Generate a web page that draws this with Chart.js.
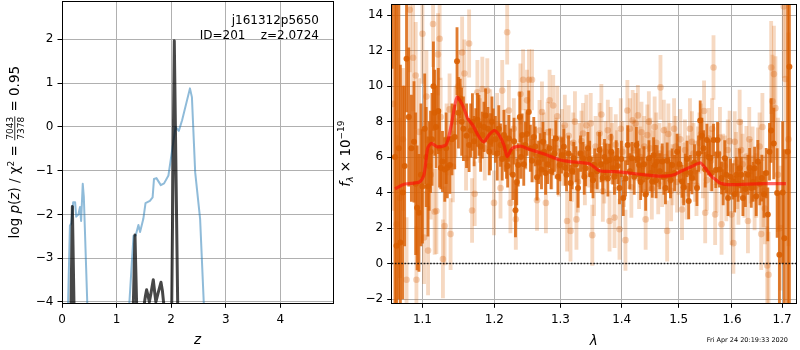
<!DOCTYPE html>
<html>
<head>
<meta charset="utf-8">
<script src="https://cdn.jsdelivr.net/npm/chart.js@4.4.1/dist/chart.umd.min.js"></script>
<style>
  html, body { margin: 0; padding: 0; background: #fff; }
  .wrap { position: relative; width: 800px; height: 350px; }
  canvas { position: absolute; left: 0; top: 0; }
</style>
</head>
<body>
<div class="wrap">
  <canvas id="pz" width="800" height="350"></canvas>
  <canvas id="spec" width="800" height="350"></canvas>
</div>
<script>
// ---- left panel: log p(z) ----
const zBlue = [0.11, 0.145, 0.17, 0.205, 0.24, 0.26, 0.30, 0.33, 0.35, 0.38, 0.40, 0.465, 0.8,
  1.23, 1.31, 1.35, 1.40, 1.43, 1.49, 1.53, 1.61, 1.66, 1.685, 1.73, 1.81, 1.87, 1.95, 2.08, 2.14, 2.20, 2.344, 2.38, 2.44, 2.53, 2.60];
const pzBlue = [-4.1, -2.26, -2.2, -1.72, -1.72, -2.05, -2.0, -1.83, -2.15, -1.30, -1.6, -4.1, null,
  -4.1, -2.49, -2.48, -2.24, -2.4, -2.1, -1.74, -1.69, -1.61, -1.19, -1.17, -1.33, -1.29, -1.11, 0.0, -0.09, 0.15, 0.88, 0.68, -1.04, -2.1, -4.1];

const zBlack = [0.165, 0.19, 0.22, 0.8, 1.306, 1.337, 1.368, 1.45,
  1.50, 1.53, 1.55, 1.575, 1.60, 1.63, 1.672, 1.70, 1.72, 1.76, 1.813, 1.84, 1.868, 1.95, 2.01, 2.057, 2.12];
const pzBlack = [-4.1, -1.82, -4.1, null, -4.1, -2.47, -4.1, null,
  -4.1, -3.85, -3.72, -3.85, -4.0, -3.8, -3.49, -3.8, -4.0, -3.8, -3.55, -3.75, -4.1, null, -4.1, 1.97, -4.1];

const zTicks = [0, 1, 2, 3, 4];
const pzTicks = [-4, -3, -2, -1, 0, 1, 2];

// ---- right panel: spectrum ----
const darkWave = [
  1.0605,1.0640,1.0660,1.0690,1.0710,1.0740,1.0765,1.0790,1.0819,1.0854,
  1.0888,1.0910,1.0929,1.0953,1.0980,1.1000,1.1030,1.1050,1.1073,1.1090,
  1.1108,1.1128,1.1147,1.1165,1.1183,1.1213,1.1230,1.1248,1.1270,1.1301,
  1.1320,1.1336,1.1371,1.1400,1.1438,1.1470,1.1490,1.1514,1.1535,1.1559,
  1.1603,1.1639,1.1686,1.1733,1.1780,1.1827,1.1874,1.1907,1.1945,1.1985,
  1.2042,1.2090,1.2140,1.2178,1.2213,1.2272,1.2311,1.2351,1.2376,1.2411,
  1.2460,1.2511,1.2535,1.2587,1.2636,1.2686,1.2727,1.2768,1.2830,1.2880,
  1.2928,1.2990,1.3054,1.3096,1.3159,1.3211,1.3280,1.3360,1.3403,1.3440,
  1.3495,1.3549,1.3630,1.3682,1.3741,1.3796,1.3850,1.3907,1.3963,1.4027,
  1.4102,1.4177,1.4251,1.4297,1.4354,1.4412,1.4470,1.4528,1.4575,1.4615,
  1.4704,1.4762,1.4822,1.4882,1.4971,1.5061,1.5121,1.5183,1.5243,1.5336,
  1.5396,1.5459,1.5521,1.5582,1.5646,1.5690,1.5723,1.5799,1.5862,1.5924,
  1.6019,1.6085,1.6149,1.6213,1.6312,1.6378,1.6444,1.6509,1.6588,1.6676,
  1.6709,1.6743,1.6777,1.6830,1.6899,1.6945,1.7012,1.7047,1.7116,1.7151,
  // in-between samples of the dense middle band
  1.1662,1.1710,1.1757,1.1803,1.1850,1.1926,1.1965,1.2015,1.2065,1.2115,
  1.2160,1.2195,1.2240,1.2290,1.2330,1.2393,1.2435,1.2485,1.2560,1.2610,
  1.2660,1.2705,1.2750,1.2800,1.2855,1.2905,1.2960,1.3020,1.3075,1.3128,
  1.3185,1.3245,1.3320,1.3380,1.3468,1.3522,1.3590,1.3655,1.3712,1.3768,
  1.3823,1.3878,1.3935,1.3995,1.4065,1.4140,1.4214,1.4274,1.4325,1.4383,
  1.4441,1.4499,1.4551,1.4595,1.4660,1.4733,1.4792,1.4852,1.4926,1.5016,
  1.5091,1.5152,1.5213,1.5290,1.5366,1.5428,1.5490,1.5551,1.5614,1.5760,
  1.5830,1.5893,1.5970,1.6052,1.6117,1.6181,1.6262,1.6345,1.6411,1.6476,
  1.6548,1.6632];
const darkFlux = [
  16.0,6.0,1.0,6.5,1.19,4.0,5.5,11.55,8.26,6.5,
  6.86,4.5,3.14,2.86,5.0,4.35,7.6,6.0,4.35,5.5,
  6.3,7.0,10.0,8.5,7.7,8.6,6.5,5.4,5.75,5.3,
  6.5,5.4,5.56,7.0,7.14,11.4,8.5,9.3,8.0,7.6,
  7.2,6.68,7.98,7.33,7.8,7.24,8.35,7.6,6.86,7.42,
  6.2,6.68,7.24,6.0,7.05,5.0,3.0,5.56,8.26,7.24,
  6.68,8.54,6.5,7.14,4.87,6.12,6.86,5.1,6.5,6.0,
  7.05,5.56,6.58,5.0,4.54,5.93,4.26,5.93,5.37,6.5,
  5.0,5.56,6.4,4.82,5.75,5.84,5.37,5.93,4.26,3.7,
  6.68,5.93,6.68,5.56,5.0,3.89,5.93,4.63,5.56,5.75,
  5.75,4.26,5.0,5.56,6.3,4.63,5.19,3.52,4.82,4.26,
  8.07,6.5,6.96,5.93,6.96,5.28,6.96,4.82,5.93,3.7,
  4.63,5.0,5.37,3.7,5.0,4.26,5.37,5.75,4.82,5.1,
  2.77,6.3,7.5,6.77,3.98,0.5,4.0,1.43,6.3,11.1,
  7.5,6.9,8.1,6.6,7.7,6.3,8.0,7.0,7.6,5.9,
  6.5,5.5,6.3,6.9,4.6,6.0,5.6,7.3,5.8,6.6,
  5.7,5.3,6.3,5.6,5.2,6.2,4.9,6.1,5.4,6.2,
  5.2,5.6,6.2,4.9,5.9,4.7,5.2,5.6,6.0,4.8,
  6.3,4.9,5.5,5.9,4.8,5.2,4.9,5.9,4.6,5.6,
  4.9,5.1,6.1,4.7,5.2,4.9,5.8,4.7,5.1,5.6,
  4.3,5.9,5.1,5.7,6.2,7.2,5.3,6.0,5.1,5.3,
  4.3,5.0,4.9,3.9,4.5,5.0,4.2,5.4,4.6,3.8,
  4.5,3.9];
const darkErr = [
  5.0,9.0,14.0,8.5,10.0,6.0,4.5,3.0,3.9,3.0,
  3.4,4.0,3.5,3.3,4.0,3.2,3.1,2.8,2.8,2.5,
  2.3,2.6,2.5,2.4,2.3,2.4,2.2,1.2,1.7,1.8,
  2.0,1.7,1.6,2.0,1.8,1.9,2.0,1.1,1.9,1.8,
  1.8,1.5,1.6,1.4,1.7,1.3,1.5,1.2,1.6,1.3,
  1.5,1.2,1.4,1.2,1.3,1.4,1.5,1.2,1.4,1.2,
  1.3,1.2,1.3,1.1,1.3,1.2,1.1,1.2,1.1,1.0,
  1.0,0.9,1.0,0.9,1.0,0.9,1.1,0.9,1.0,0.9,
  1.0,0.9,1.0,0.9,1.0,0.9,0.9,1.0,0.9,1.0,
  1.1,0.9,1.0,0.9,1.0,0.9,1.0,0.9,1.1,0.9,
  1.0,0.9,1.0,0.9,1.0,0.9,1.0,1.0,0.9,1.0,
  1.1,1.0,0.9,1.0,0.9,1.0,1.0,0.9,1.0,1.0,
  1.0,1.0,1.1,1.0,1.1,1.1,1.2,1.2,1.3,1.4,
  1.5,1.6,1.8,2.0,2.5,3.5,4.0,5.0,10.0,14.0,
  1.5,1.4,1.5,1.4,1.4,1.3,1.4,1.3,1.3,1.2,
  1.3,1.2,1.3,1.3,1.3,1.2,1.2,1.2,1.2,1.1,
  1.2,1.1,1.1,1.1,1.0,1.0,1.0,1.0,1.0,1.0,
  1.0,1.0,1.0,1.0,1.0,1.0,1.0,1.0,1.0,1.0,
  1.0,1.0,1.0,1.0,1.0,1.0,1.0,1.0,1.0,1.0,
  1.0,1.0,1.0,1.0,1.0,1.0,1.0,1.0,1.0,1.0,
  1.0,1.0,1.0,1.0,1.0,1.0,1.0,1.0,1.0,1.0,
  1.0,1.0,1.0,1.0,1.0,1.0,1.0,1.1,1.1,1.1,
  1.2,1.3];

const lightWave = [
  1.0615,1.0662,1.0704,1.0743,1.0790,1.0833,1.0876,1.0911,1.0920,1.0955,
  1.1000,1.1021,1.1053,1.1075,1.1111,1.1142,1.1164,1.1187,1.1209,1.1231,
  1.1245,1.1276,1.1299,1.1326,1.1367,1.1381,1.1412,1.1449,1.1490,1.1541,
  1.1573,1.1596,1.1639,1.1681,1.1718,1.1756,1.1791,1.1827,1.1862,1.1898,
  1.1941,1.1995,1.2042,1.2090,1.2115,1.2159,1.2188,1.2213,1.2236,1.2286,
  1.2316,1.2350,1.2385,1.2425,1.2462,1.2484,1.2514,1.2560,1.2598,1.2636,
  1.2674,1.2712,1.2742,1.2773,1.2830,1.2886,1.2928,1.2975,1.3022,1.3069,
  1.3105,1.3159,1.3203,1.3254,1.3299,1.3360,1.3414,1.3459,1.3511,1.3565,
  1.3630,1.3684,1.3729,1.3767,1.3796,1.3837,1.3879,1.3921,1.3963,1.4013,
  1.4064,1.4097,1.4139,1.4187,1.4239,1.4277,1.4319,1.4362,1.4412,1.4441,
  1.4494,1.4546,1.4598,1.4633,1.4673,1.4733,1.4792,1.4837,1.4890,1.4944,
  1.4998,1.5061,1.5115,1.5170,1.5243,1.5299,1.5354,1.5410,1.5447,1.5489,
  1.5553,1.5596,1.5646,1.5677,1.5737,1.5799,1.5862,1.5918,1.5990,1.6027,
  1.6053,1.6101,1.6149,1.6207,1.6281,1.6312,1.6365,1.6444,1.6509,1.6576,
  1.6622,1.6697,1.6723,1.6777,1.6803,1.6833,1.6864,1.6915,1.6966,1.7034,
  1.7068,1.7131,
  // in-between samples of the middle band
  1.2800,1.2858,1.2950,1.3045,1.3130,1.3180,1.3230,1.3278,1.3335,1.3390,
  1.3485,1.3540,1.3600,1.3660,1.3708,1.3815,1.3900,1.3985,1.4040,1.4115,
  1.4165,1.4213,1.4298,1.4340,1.4388,1.4468,1.4520,1.4570,1.4655,1.4703,
  1.4763,1.4814,1.4863,1.4917,1.4971,1.5030,1.5088,1.5143,1.5206,1.5271,
  1.5327,1.5382,1.5468,1.5520,1.5620,1.5707,1.5768,1.5830,1.5890,1.5954,
  1.6078,1.6125,1.6178,1.6244,1.6338,1.6404,1.6476,1.6543,1.6600,1.6650];
const lightFlux = [
  9.0,2.21,3.7,7.0,-0.91,14.3,11.6,10.6,-0.91,7.42,
  12.95,1.47,9.41,0.73,5.0,13.5,2.92,2.96,11.79,12.67,
  8.26,0.26,2.12,7.0,8.69,1.66,5.47,8.0,10.0,11.9,
  10.71,5.93,12.4,2.99,3.93,9.66,7.5,9.84,6.5,9.75,
  8.0,3.42,7.8,4.26,9.75,7.0,13.04,8.63,3.42,7.6,
  2.5,6.5,9.56,10.36,7.0,9.2,10.36,10.36,6.3,3.57,
  7.5,8.54,6.8,3.42,9.2,8.91,6.5,5.5,7.0,7.79,
  2.4,1.84,6.8,2.49,6.2,7.33,7.79,6.0,1.6,6.6,
  7.33,4.07,6.3,7.51,2.4,6.2,2.59,5.8,1.93,6.3,
  1.32,8.63,7.6,8.07,7.89,8.35,6.0,5.5,2.49,7.24,
  6.5,5.8,6.8,4.5,9.93,7.51,1.84,6.2,5.0,6.6,
  5.6,3.05,6.4,5.5,6.86,5.2,6.0,7.3,5.4,2.86,
  7.05,5.8,11.05,2.77,6.2,2.21,5.5,6.4,2.77,1.15,
  6.86,4.8,7.98,5.6,6.03,2.4,5.2,3.7,5.75,1.66,
  4.07,-0.11,-0.63,11.05,9.15,10.68,8.76,5.0,2.0,14.49,
  10.4,7.0,
  7.4,5.9,8.3,6.1,7.2,5.2,8.0,4.6,6.9,5.0,
  7.9,4.4,5.7,8.4,5.1,7.1,6.7,7.6,4.9,5.9,
  4.3,6.4,4.8,7.4,6.6,8.0,4.2,7.7,6.2,4.9,
  6.0,7.3,4.1,7.6,4.6,7.0,5.1,4.2,7.6,6.2,
  4.4,6.8,8.6,4.7,7.6,4.6,7.1,5.6,4.1,6.9,
  5.7,3.9,6.4,4.3,7.0,5.9,4.4,6.6,7.7,3.1];
const lightErr = [
  6.0,5.0,4.5,4.0,3.5,3.5,3.0,3.0,3.0,3.0,
  2.8,2.6,2.6,2.5,2.5,2.4,2.4,2.4,2.3,2.3,
  2.2,2.2,2.2,2.0,2.0,2.0,2.0,2.0,2.0,2.0,
  1.9,1.8,1.9,1.8,1.8,1.8,1.8,1.8,1.8,1.8,
  1.8,1.8,1.8,1.7,1.7,1.7,1.8,1.7,1.7,1.7,
  1.7,1.7,1.7,1.7,1.7,1.7,1.7,1.7,1.7,1.7,
  1.7,1.7,1.7,1.7,1.7,1.7,1.7,1.7,1.7,1.7,
  1.7,1.7,1.7,1.7,1.7,1.7,1.7,1.7,1.7,1.7,
  1.7,1.7,1.7,1.7,1.7,1.7,1.7,1.7,1.7,1.7,
  1.7,1.7,1.7,1.7,1.7,1.7,1.7,1.7,1.7,1.7,
  1.7,1.7,1.7,1.7,1.8,1.7,1.7,1.7,1.7,1.7,
  1.7,1.7,1.7,1.7,1.7,1.7,1.7,1.7,1.7,1.7,
  1.7,1.7,1.8,1.7,1.7,1.7,1.7,1.7,1.7,1.7,
  1.7,1.7,1.8,1.7,1.7,1.8,1.8,1.8,1.9,2.0,
  2.0,2.2,2.4,2.6,2.6,2.7,2.9,3.2,3.5,4.0,
  4.5,6.0,
  1.7,1.7,1.7,1.7,1.7,1.7,1.7,1.7,1.7,1.7,
  1.7,1.7,1.7,1.7,1.7,1.7,1.7,1.7,1.7,1.7,
  1.7,1.7,1.7,1.7,1.7,1.7,1.7,1.7,1.7,1.7,
  1.7,1.7,1.7,1.7,1.7,1.7,1.7,1.7,1.7,1.7,
  1.7,1.7,1.7,1.7,1.7,1.7,1.7,1.7,1.7,1.7,
  1.7,1.7,1.7,1.7,1.8,1.8,1.8,1.9,1.9,2.0];

const modelWave = [1.064,1.077,1.096,1.102,1.107,1.112,1.120,1.132,1.139,1.147,1.155,1.162,1.169,1.178,1.185,1.192,1.200,1.207,1.214,1.219,1.226,1.239,1.248,1.264,1.279,1.287,1.299,1.315,1.333,1.347,1.363,1.380,1.396,1.413,1.441,1.465,1.488,1.506,1.524,1.540,1.549,1.561,1.568,1.577,1.592,1.631,1.664,1.708];
const modelFlux = [4.22,4.48,4.6,5.0,6.5,6.77,6.58,6.71,7.8,9.37,8.9,8.17,7.8,7.14,6.86,7.24,7.5,7.24,6.68,6.03,6.49,6.62,6.49,6.3,6.12,6.0,5.84,5.75,5.69,5.62,5.23,5.19,5.17,5.1,5.0,4.93,4.97,5.23,5.47,5.67,5.38,4.91,4.75,4.54,4.45,4.48,4.5,4.5];

const waveTicks = [1.1, 1.2, 1.3, 1.4, 1.5, 1.6, 1.7];
const fluxTicks = [-2, 0, 2, 4, 6, 8, 10, 12, 14];

const FONT = "'DejaVu Sans', sans-serif";
Chart.defaults.font.family = FONT;
Chart.defaults.font.size = 12;
Chart.defaults.color = '#000';

const minus = v => (v < 0 ? '\u2212' + Math.abs(v) : String(v));
const pts = (xs, ys) => xs.map((x, i) => ({ x: x, y: ys[i] }));
const bars = (xs, ys, es) => xs.map((x, i) => ({ x: x, y: [ys[i] - es[i], ys[i] + es[i]] }));

// fixed axis box sizes, no automatic label padding
const fixX = h => s => { s.height = h; s.paddingLeft = 0; s.paddingRight = 0; };
const fixY = w => s => { s.width = w; s.paddingTop = 0; s.paddingBottom = 0; };

function frame(ctx, a) {
  const l = Math.floor(a.left) + 0.5, r = Math.floor(a.right) + 0.5;
  const t = Math.floor(a.top) + 0.5, b = Math.floor(a.bottom) + 0.5;
  ctx.save();
  ctx.strokeStyle = '#000';
  ctx.lineWidth = 1;
  ctx.strokeRect(l, t, r - l, b - t);
  ctx.restore();
}

// rotated label built from pieces (plain, italic, sub/superscript, fraction)
function rotatedLabel(ctx, x, y, parts) {
  ctx.save();
  ctx.translate(x, y);
  ctx.rotate(-Math.PI / 2);
  ctx.fillStyle = '#000';
  ctx.textBaseline = 'alphabetic';
  const widths = parts.map(p => {
    ctx.font = p.font;
    if (p.frac) return Math.max(ctx.measureText(p.frac[0]).width, ctx.measureText(p.frac[1]).width) + 2;
    return ctx.measureText(p.t).width;
  });
  let pos = -widths.reduce((s, w) => s + w, 0) / 2;
  parts.forEach((p, i) => {
    ctx.font = p.font;
    if (p.frac) {
      ctx.textAlign = 'center';
      ctx.fillText(p.frac[0], pos + widths[i] / 2, -5.8);
      ctx.fillText(p.frac[1], pos + widths[i] / 2, 4.6);
      ctx.fillRect(pos + 0.5, -4.6, widths[i] - 1, 0.8);
    } else {
      ctx.textAlign = 'left';
      ctx.fillText(p.t, pos, p.dy || 0);
    }
    pos += widths[i];
  });
  ctx.restore();
}

const gridOpts = { color: '#b0b0b0', lineWidth: 1, tickColor: '#000', tickLength: 4.5, tickWidth: 1 };

const M = '13.5px ' + FONT, MI = 'italic 13.5px ' + FONT, S = '9px ' + FONT;

const leftDecor = {
  id: 'leftDecor',
  afterDraw(chart) {
    const ctx = chart.ctx, a = chart.chartArea;
    frame(ctx, a);
    ctx.save();
    ctx.fillStyle = '#000';
    ctx.font = '12px ' + FONT;
    ctx.textAlign = 'right';
    ctx.fillText('j161312p5650', 319, 24);
    ctx.fillText('ID=201    z=2.0724', 319, 38.5);
    ctx.textAlign = 'center';
    ctx.font = MI;
    ctx.fillText('z', (a.left + a.right) / 2, 344);
    ctx.restore();
    rotatedLabel(ctx, 19, (a.top + a.bottom) / 2, [
      { t: 'log ', font: M }, { t: 'p', font: MI }, { t: '(', font: M }, { t: 'z', font: MI },
      { t: ')', font: M }, { t: ' / ', font: M }, { t: '\u03c7', font: M },
      { t: '2', font: S, dy: -5.5 }, { t: ' = ', font: M },
      { frac: ['7043', '7378'], font: S }, { t: ' = 0.95', font: M }
    ]);
  }
};

const rightDecor = {
  id: 'rightDecor',
  afterDraw(chart) {
    const ctx = chart.ctx, a = chart.chartArea;
    frame(ctx, a);
    ctx.save();
    ctx.fillStyle = '#000';
    ctx.textAlign = 'center';
    ctx.font = MI;
    ctx.fillText('\u03bb', (a.left + a.right) / 2, 345);
    ctx.font = '6.5px ' + FONT;
    ctx.textAlign = 'right';
    ctx.fillText('Fri Apr 24 20:19:33 2020', 788, 342);
    ctx.restore();
    rotatedLabel(ctx, 350, (a.top + a.bottom) / 2, [
      { t: 'f', font: MI }, { t: '\u03bb', font: 'italic 9.5px ' + FONT, dy: 3 },
      { t: ' \u00d7 10', font: M }, { t: '\u221219', font: S, dy: -6 }
    ]);
  }
};

new Chart(document.getElementById('pz'), {
  type: 'scatter',
  data: {
    datasets: [
      { data: pts(zBlack, pzBlack), showLine: true, spanGaps: false, borderColor: 'rgba(0,0,0,0.72)',
        borderWidth: 3, borderJoinStyle: 'round', pointRadius: 0, clip: 0, order: 1 },
      { data: pts(zBlue, pzBlue), showLine: true, spanGaps: false, borderColor: 'rgba(31,119,180,0.5)',
        borderWidth: 2, borderJoinStyle: 'round', pointRadius: 0, clip: 0, order: 2 }
    ]
  },
  options: {
    responsive: false, animation: false, events: [], devicePixelRatio: 1,
    layout: { padding: { left: 0, top: 1, right: 800 - 333.3, bottom: 0 } },
    plugins: { legend: { display: false }, tooltip: { enabled: false } },
    scales: {
      x: {
        type: 'linear', min: 0, max: 4.97,
        afterFit: fixX(46.7),
        afterBuildTicks: s => { s.ticks = zTicks.map(v => ({ value: v })); },
        ticks: { padding: 5, autoSkip: false, maxRotation: 0, callback: v => minus(v) },
        grid: gridOpts, border: { display: false }
      },
      y: {
        type: 'linear', min: -4.03, max: 2.876,
        afterFit: fixY(62),
        afterBuildTicks: s => { s.ticks = pzTicks.map(v => ({ value: v })); },
        ticks: { padding: 4, autoSkip: false, callback: v => minus(v) },
        grid: gridOpts, border: { display: false }
      }
    }
  },
  plugins: [leftDecor]
});

const ORANGE = '217,95,2';
new Chart(document.getElementById('spec'), {
  type: 'scatter',
  data: {
    datasets: [
      { type: 'bar', data: bars(lightWave, lightFlux, lightErr), backgroundColor: 'rgba(' + ORANGE + ',0.24)',
        barThickness: 3.2, grouped: false, borderWidth: 0, clip: 0, order: 6 },
      { type: 'scatter', data: pts(lightWave, lightFlux), pointRadius: 3.3, pointBorderWidth: 0,
        pointBackgroundColor: 'rgba(' + ORANGE + ',0.28)', clip: 0, order: 5 },
      { type: 'bar', data: bars(darkWave, darkFlux, darkErr), backgroundColor: 'rgba(' + ORANGE + ',0.82)',
        barThickness: 2.2, grouped: false, borderWidth: 0, clip: 0, order: 4 },
      { type: 'scatter', data: pts(darkWave, darkFlux), pointRadius: 3, pointBorderWidth: 0,
        pointBackgroundColor: 'rgba(' + ORANGE + ',0.9)', clip: 0, order: 3 },
      { type: 'line', data: [{ x: 1.0598, y: 0 }, { x: 1.7289, y: 0 }], borderColor: 'rgba(0,0,0,0.85)',
        borderWidth: 1.5, borderDash: [1.6, 1.6], pointRadius: 0, clip: 0, order: 2 },
      { type: 'line', data: pts(modelWave, modelFlux), borderColor: 'rgba(255,10,10,0.62)', borderWidth: 3.2,
        tension: 0.25, borderJoinStyle: 'round', pointRadius: 0, clip: 0, order: 1 }
    ]
  },
  options: {
    responsive: false, animation: false, events: [], devicePixelRatio: 1,
    layout: { padding: { left: 391.7 - 40, top: 1, right: 800 - 798.7, bottom: 0 } },
    plugins: { legend: { display: false }, tooltip: { enabled: false } },
    scales: {
      x: {
        type: 'logarithmic', min: 1.0598, max: 1.7289, offset: false,
        afterFit: fixX(46.7),
        afterBuildTicks: s => { s.ticks = waveTicks.map(v => ({ value: v })); },
        ticks: { padding: 5, autoSkip: false, maxRotation: 0, callback: v => Number(v).toFixed(1) },
        grid: Object.assign({ offset: false }, gridOpts), border: { display: false }
      },
      y: {
        type: 'linear', min: -2.24, max: 14.63,
        afterFit: fixY(40),
        afterBuildTicks: s => { s.ticks = fluxTicks.map(v => ({ value: v })); },
        ticks: { padding: 4, autoSkip: false, callback: v => minus(v) },
        grid: gridOpts, border: { display: false }
      }
    }
  },
  plugins: [rightDecor]
});
</script>
</body>
</html>
